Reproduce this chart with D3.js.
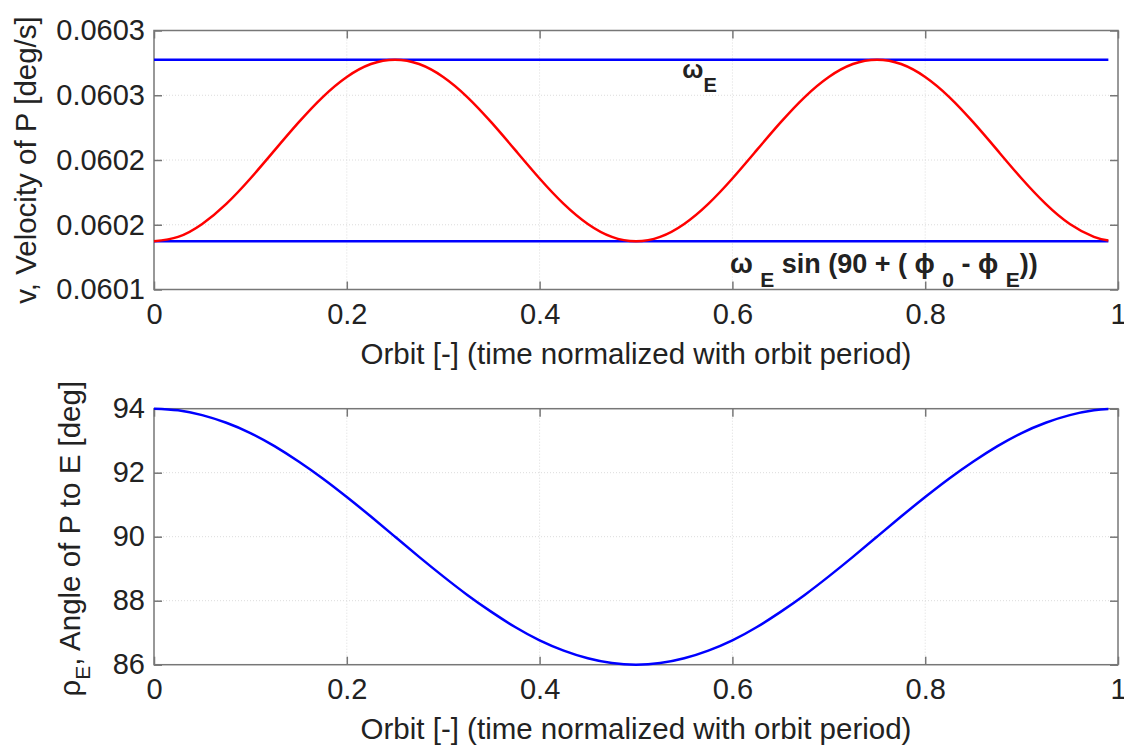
<!DOCTYPE html>
<html>
<head>
<meta charset="utf-8">
<script src="https://cdn.jsdelivr.net/npm/d3@7"></script>
<style>
  body { margin: 0; background: #fff; }
  svg text { font-family: "Liberation Sans", Arial, Helvetica, sans-serif; fill: #222; }
</style>
</head>
<body>
<div id="chart"></div>
<script>
const width = 1124,
height = 746;

// orbit fraction (x) shared by both panels
const orbit = [0, 0.025, 0.05, 0.075, 0.1, 0.125, 0.15, 0.175, 0.2, 0.225,
  0.25, 0.275, 0.3, 0.325, 0.35, 0.375, 0.4, 0.425, 0.45, 0.475,
  0.5, 0.525, 0.55, 0.575, 0.6, 0.625, 0.65, 0.675, 0.7, 0.725,
  0.75, 0.775, 0.8, 0.825, 0.85, 0.875, 0.9, 0.925, 0.95, 0.975, 0.99];

// top panel: velocity of P [deg/s]
const velocity = [0.0601372, 0.0601406, 0.0601506, 0.0601661, 0.0601857, 0.0602074, 0.0602290, 0.0602486, 0.0602641, 0.0602741,
  0.0602775, 0.0602741, 0.0602641, 0.0602486, 0.0602290, 0.0602074, 0.0601857, 0.0601661, 0.0601506, 0.0601406,
  0.0601372, 0.0601406, 0.0601506, 0.0601661, 0.0601857, 0.0602074, 0.0602290, 0.0602486, 0.0602641, 0.0602741,
  0.0602775, 0.0602741, 0.0602641, 0.0602486, 0.0602290, 0.0602074, 0.0601857, 0.0601661, 0.0601506, 0.0601406, 0.0601378];
const omegaE = 0.0602775;
const omegaELow = 0.0601372;

// bottom panel: angle of P to E [deg]
const angle = [94.00, 93.95, 93.80, 93.56, 93.24, 92.83, 92.35, 91.82, 91.24, 90.63,
  90.00, 89.37, 88.76, 88.18, 87.65, 87.17, 86.76, 86.44, 86.20, 86.05,
  86.00, 86.05, 86.20, 86.44, 86.76, 87.17, 87.65, 88.18, 88.76, 89.37,
  90.00, 90.63, 91.24, 91.82, 92.35, 92.83, 93.24, 93.56, 93.80, 93.95, 93.99];

const xTicks = [0, 0.2, 0.4, 0.6, 0.8, 1];
const xTickLabels = ['0', '0.2', '0.4', '0.6', '0.8', '1'];
const vTicks = [0.0601, 0.06015, 0.0602, 0.06025, 0.0603];
const vTickLabels = ['0.0601', '0.0602', '0.0602', '0.0603', '0.0603'];
const aTicks = [86, 88, 90, 92, 94];
const aTickLabels = ['86', '88', '90', '92', '94'];

const xLabel = 'Orbit [-] (time normalized with orbit period)';

const svg = d3.select('#chart').
append('svg').
attr('width', width).
attr('height', height);

const x = d3.scaleLinear().domain([0, 1]).range([154, 1118]);

function panel(top, bottom, yDomain, yTicks, yLabels) {
  const y = d3.scaleLinear().domain(yDomain).range([bottom, top]);
  const g = svg.append('g');

  // grid
  g.append('g').selectAll('line').
  data(xTicks.slice(1, -1)).
  enter().
  append('line').
  attr('x1', d => x(d)).attr('x2', d => x(d)).
  attr('y1', top).attr('y2', bottom).
  attr('stroke', '#dcdcdc').attr('stroke-width', 1).attr('stroke-dasharray', '1,2');
  g.append('g').selectAll('line').
  data(yTicks.slice(1, -1)).
  enter().
  append('line').
  attr('x1', x(0)).attr('x2', x(1)).
  attr('y1', d => y(d)).attr('y2', d => y(d)).
  attr('stroke', '#dcdcdc').attr('stroke-width', 1).attr('stroke-dasharray', '1,2');

  const tickStyle = sel => {
    sel.select('.domain').remove();
    sel.selectAll('.tick line').attr('stroke', '#777').attr('stroke-width', 1.5);
    sel.selectAll('.tick text').style('font-size', '29px').attr('fill', '#222');
  };

  g.append('g').
  attr('transform', `translate(0,${bottom})`).
  call(d3.axisBottom(x).tickValues(xTicks).tickFormat((d, i) => xTickLabels[i]).tickSizeInner(-8).tickSizeOuter(0).tickPadding(14)).
  call(tickStyle);
  g.append('g').
  attr('transform', `translate(0,${top})`).
  call(d3.axisTop(x).tickValues(xTicks).tickFormat('').tickSizeInner(-8).tickSizeOuter(0)).
  call(tickStyle);
  g.append('g').
  attr('transform', `translate(${x(0)},0)`).
  call(d3.axisLeft(y).tickValues(yTicks).tickFormat((d, i) => yLabels[i]).tickSizeInner(-8).tickSizeOuter(0).tickPadding(9)).
  call(tickStyle);
  g.append('g').
  attr('transform', `translate(${x(1)},0)`).
  call(d3.axisRight(y).tickValues(yTicks).tickFormat('').tickSizeInner(-8).tickSizeOuter(0)).
  call(tickStyle);

  g.append('rect').
  attr('x', x(0)).attr('y', top).
  attr('width', x(1) - x(0)).attr('height', bottom - top).
  attr('fill', 'none').attr('stroke', '#777').attr('stroke-width', 1.5);

  g.append('text').
  attr('x', (x(0) + x(1)) / 2).
  attr('y', bottom + 74).
  attr('text-anchor', 'middle').
  style('font-size', '29.5px').
  text(xLabel);

  return { g, y };
}

// ---- top panel
const p1 = panel(30.5, 289.5, [0.0601, 0.0603], vTicks, vTickLabels);
const line1 = d3.line().x((d, i) => x(orbit[i])).y(d => p1.y(d)).curve(d3.curveNatural);

p1.g.selectAll('.bound').
data([omegaE, omegaELow]).
enter().
append('line').
attr('x1', x(orbit[0])).attr('x2', x(orbit[orbit.length - 1])).
attr('y1', d => p1.y(d)).attr('y2', d => p1.y(d)).
attr('stroke', '#0000ff').attr('stroke-width', 2.5);

p1.g.append('path').
attr('d', line1(velocity)).
attr('fill', 'none').
attr('stroke', '#ff0000').
attr('stroke-width', 2.5);

const ann1 = p1.g.append('text').
attr('x', x(0.548)).attr('y', p1.y(0.0602633)).
style('font-weight', 'bold').style('font-size', '25px');
ann1.append('tspan').text('ω');
ann1.append('tspan').attr('dy', 14).style('font-size', '20px').text('E');

const ann2 = p1.g.append('text').
attr('x', x(0.5975)).attr('y', p1.y(0.0601127)).
style('font-weight', 'bold').style('font-size', '27px');
ann2.append('tspan').text('ω ');
ann2.append('tspan').attr('dy', 14).style('font-size', '21px').text('E');
ann2.append('tspan').attr('dy', -14).text(' sin (90 + ( ϕ ');
ann2.append('tspan').attr('dy', 14).style('font-size', '21px').text('0');
ann2.append('tspan').attr('dy', -14).text(' - ϕ ');
ann2.append('tspan').attr('dy', 14).style('font-size', '21px').text('E');
ann2.append('tspan').attr('dy', -14).text('))');

p1.g.append('text').
attr('transform', `translate(36,${(30.5 + 289.5) / 2}) rotate(-90)`).
attr('text-anchor', 'middle').
style('font-size', '29.5px').
text('v, Velocity of P [deg/s]');

// ---- bottom panel
const p2 = panel(408.7, 664.7, [86, 94], aTicks, aTickLabels);
const line2 = d3.line().x((d, i) => x(orbit[i])).y(d => p2.y(d)).curve(d3.curveNatural);

p2.g.append('path').
attr('d', line2(angle)).
attr('fill', 'none').
attr('stroke', '#0000ff').
attr('stroke-width', 2.5);

const yl2 = p2.g.append('text').
attr('transform', `translate(80,${(408.7 + 664.7) / 2 + 2}) rotate(-90)`).
attr('text-anchor', 'middle').
style('font-size', '29.5px');
yl2.append('tspan').text('ρ');
yl2.append('tspan').attr('dy', 10).style('font-size', '21px').text('E');
yl2.append('tspan').attr('dy', -10).text(', Angle of P to E [deg]');
</script>
</body>
</html>
